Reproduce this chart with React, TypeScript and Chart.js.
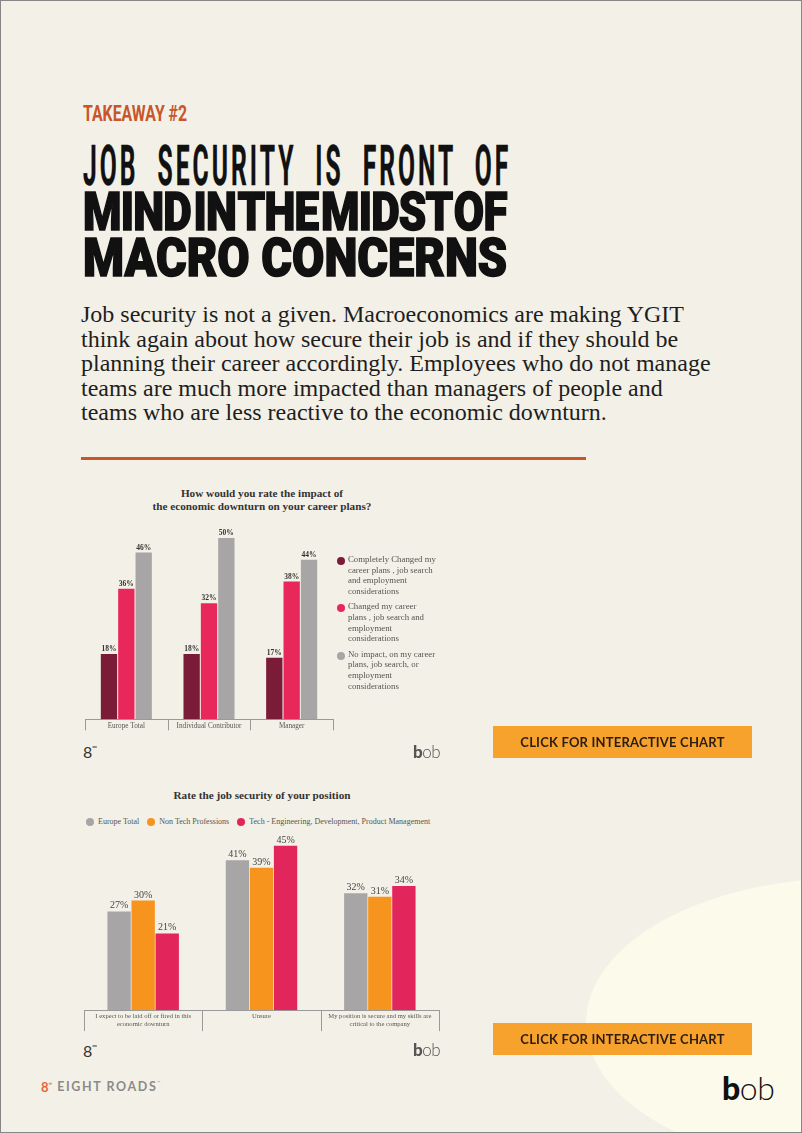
import React, { useEffect, useLayoutEffect, useRef } from 'react';
import { Chart, registerables } from 'chart.js';

Chart.register(...registerables);

// ---------- Data ----------
const careerTitle = ['How would you rate the impact of', 'the economic downturn on your career plans?'];
const careerCategories = ['Europe Total', 'Individual Contributor', 'Manager'];
const careerSeries = [
  'Completely Changed my\ncareer plans , job search\nand employment\nconsiderations',
  'Changed my career\nplans , job search and\nemployment\nconsiderations',
  'No impact, on my career\nplans, job search, or\nemployment\nconsiderations',
];
const completelyChanged = [18, 18, 17];
const changedPlans = [36, 32, 38];
const noImpact = [46, 50, 44];
const careerColors = ['#7a1b37', '#e8285a', '#a7a5a6'];

const securityTitle = 'Rate the job security of your position';
const securityCategories = [
  ['I expect to be laid off or fired in this', 'economic downturn'],
  ['Unsure'],
  ['My position is secure and my skills are', 'critical to the company'],
];
const securitySeries = ['Europe Total', 'Non Tech Professions', 'Tech - Engineering, Development, Product Management'];
const europeTotal = [27, 41, 32];
const nonTech = [30, 39, 31];
const techRoles = [21, 45, 34];
const securityColors = ['#a7a5a6', '#f7941e', '#e2255a'];

const kicker = 'TAKEAWAY #2';
const headlineLines = ['JOB SECURITY IS FRONT OF', 'MIND IN THE MIDST OF', 'MACRO CONCERNS'];
const paragraphLines = [
  'Job security is not a given. Macroeconomics are making YGIT',
  'think again about how secure their job is and if they should be',
  'planning their career accordingly. Employees who do not manage',
  'teams are much more impacted than managers of people and',
  'teams who are less reactive to the economic downturn.',
];

const BG = '#f3f1e7';
const SERIF = '"Liberation Serif", "Times New Roman", serif';

const valueLabelPlugin = {
  id: 'valueLabels',
  afterDatasetsDraw(chart: any, _args: any, opts: any) {
    const ctx = chart.ctx;
    ctx.save();
    ctx.font = opts.font;
    ctx.fillStyle = opts.color;
    ctx.textAlign = 'center';
    ctx.textBaseline = 'alphabetic';
    chart.data.datasets.forEach((ds: any, i: number) => {
      const meta = chart.getDatasetMeta(i);
      meta.data.forEach((el: any, j: number) => {
        ctx.fillText(`${ds.data[j]}%`, el.x, el.y - opts.offset);
      });
    });
    ctx.restore();
  },
};

// category separators below the x axis, placed from the category scale
const separatorPlugin = {
  id: 'separators',
  afterDraw(chart: any, _args: any, opts: any) {
    const xs = chart.scales.x;
    const ctx = chart.ctx;
    const bottom = chart.chartArea.bottom;
    ctx.save();
    ctx.strokeStyle = opts.color;
    ctx.lineWidth = 1;
    for (let i = 0; i <= xs.ticks.length; i++) {
      const px = Math.round(xs.getPixelForValue(i - 0.5)) + 0.5;
      ctx.beginPath();
      ctx.moveTo(px, bottom);
      ctx.lineTo(px, bottom + opts.length);
      ctx.stroke();
    }
    ctx.restore();
  },
};

function CareerChart() {
  const ref = useRef<HTMLCanvasElement>(null);
  useEffect(() => {
    const values = [completelyChanged, changedPlans, noImpact];
    const chart = new Chart(ref.current as HTMLCanvasElement, {
      type: 'bar',
      data: {
        labels: careerCategories,
        datasets: values.map((d, i) => ({
          label: careerSeries[i].replace(/\n/g, ' '),
          data: d,
          backgroundColor: careerColors[i],
          categoryPercentage: 0.63,
          barPercentage: 0.94,
        })),
      },
      options: {
        responsive: false,
        animation: false,
        layout: { padding: { left: 5, right: 7, top: 0, bottom: 0 } },
        plugins: {
          legend: { display: false },
          tooltip: { enabled: false },
          valueLabels: { font: `bold 7.5px ${SERIF}`, color: '#333', offset: 3 },
          separators: { color: '#9a9a9a', length: 11 },
        } as any,
        scales: {
          x: {
            grid: { display: false, drawTicks: false },
            border: { display: true, color: '#9a9a9a' },
            ticks: {
              font: { family: SERIF, size: 7.2 },
              color: '#555',
              padding: 2,
              autoSkip: false,
              maxRotation: 0,
            },
          },
          y: { display: false, min: 0, max: 55 },
        },
      },
      plugins: [valueLabelPlugin, separatorPlugin],
    });
    return () => chart.destroy();
  }, []);
  return (
    <canvas
      ref={ref}
      width={260}
      height={212}
      style={{ position: 'absolute', left: 79, top: 519, width: 260, height: 212 }}
    />
  );
}

function SecurityChart() {
  const ref = useRef<HTMLCanvasElement>(null);
  useEffect(() => {
    const values = [europeTotal, nonTech, techRoles];
    const chart = new Chart(ref.current as HTMLCanvasElement, {
      type: 'bar',
      data: {
        labels: securityCategories,
        datasets: values.map((d, i) => ({
          label: securitySeries[i],
          data: d,
          backgroundColor: securityColors[i],
          categoryPercentage: 0.61,
          barPercentage: 0.97,
        })),
      },
      options: {
        responsive: false,
        animation: false,
        layout: { padding: { left: 4, right: 3, top: 0, bottom: 2 } },
        plugins: {
          legend: { display: false },
          tooltip: { enabled: false },
          valueLabels: { font: `10px ${SERIF}`, color: '#444', offset: 3 },
          separators: { color: '#9a9a9a', length: 21 },
        } as any,
        scales: {
          x: {
            grid: { display: false, drawTicks: false },
            border: { display: true, color: '#9a9a9a' },
            ticks: {
              font: { family: SERIF, size: 6.6, lineHeight: 1.2 },
              color: '#555',
              padding: 2,
              autoSkip: false,
              maxRotation: 0,
            },
          },
          y: { display: false, min: 0, max: 49.3 },
        },
      },
      plugins: [valueLabelPlugin, separatorPlugin],
    });
    return () => chart.destroy();
  }, []);
  return (
    <canvas
      ref={ref}
      width={362}
      height={202}
      style={{ position: 'absolute', left: 79, top: 829, width: 362, height: 202 }}
    />
  );
}

// a single line of display type, squeezed horizontally to a target width
function FitLine({ text, left, top, width, style }: any) {
  const ref = useRef<HTMLDivElement>(null);
  useLayoutEffect(() => {
    const el = ref.current;
    if (!el) return;
    const w = el.offsetWidth;
    if (w > 0) el.style.transform = `scaleX(${width / w})`;
  }, [text, width]);
  return (
    <div
      ref={ref}
      style={{
        position: 'absolute',
        left,
        top,
        whiteSpace: 'nowrap',
        transformOrigin: '0 0',
        lineHeight: 1,
        fontFamily: 'Roboto, sans-serif',
        ...style,
      }}
    >
      {text}
    </div>
  );
}

function EightMark({ left, top, color = '#333', size = 16 }: any) {
  return (
    <div style={{ position: 'absolute', left, top, fontFamily: 'Lato, sans-serif', fontSize: size, color, lineHeight: 1 }}>
      8<span style={{ fontSize: size * 0.4, verticalAlign: 'top', position: 'relative', top: 0 }}>∞</span>
    </div>
  );
}

function BobMark({ left, top, size, color }: any) {
  return (
    <div style={{ position: 'absolute', left, top, fontFamily: 'Lato, sans-serif', fontSize: size, color, lineHeight: 1, letterSpacing: -0.5 }}>
      <span style={{ fontWeight: 900 }}>b</span>
      <span style={{ fontWeight: 300 }}>ob</span>
    </div>
  );
}

function Button({ top }: { top: number }) {
  return (
    <div
      style={{
        position: 'absolute',
        left: 492,
        top,
        width: 259,
        height: 32,
        background: '#f8a22e',
        color: '#2b1d12',
        fontFamily: 'Lato, sans-serif',
        fontWeight: 700,
        fontSize: 13,
        display: 'flex',
        alignItems: 'center',
        justifyContent: 'center',
        letterSpacing: 0.2,
      }}
    >
      CLICK FOR INTERACTIVE CHART
    </div>
  );
}

export default function App() {
  return (
    <div
      style={{
        position: 'absolute',
        left: 0,
        top: 0,
        width: 802,
        height: 1133,
        background: BG,
        border: '1px solid #868686',
        boxSizing: 'border-box',
        overflow: 'hidden',
      }}
    >
      <div
        style={{
          position: 'absolute',
          left: 585,
          top: 877,
          width: 526,
          height: 290,
          borderRadius: '50%',
          background: '#fcfaea',
        }}
      />

      <FitLine text={kicker} left={82} top={101} width={104} style={{ fontSize: 22.5, fontWeight: 700, color: '#c8562a' }} />
      <FitLine
        text={headlineLines[0]}
        left={82}
        top={143}
        width={428}
        style={{ fontSize: 56, lineHeight: '44px', fontWeight: 700, color: '#111', letterSpacing: '7px', wordSpacing: '22px', WebkitTextStroke: '0.4px #111' }}
      />
      <FitLine
        text={headlineLines[1]}
        left={82}
        top={188.7}
        width={424}
        style={{ fontSize: 53.5, lineHeight: '44px', fontWeight: 900, color: '#111', letterSpacing: '-1px', wordSpacing: '-9px', WebkitTextStroke: '1.6px #111' }}
      />
      <FitLine
        text={headlineLines[2]}
        left={82}
        top={234.7}
        width={424}
        style={{ fontSize: 53.5, lineHeight: '44px', fontWeight: 900, color: '#111', WebkitTextStroke: '1.6px #111' }}
      />

      <div
        style={{
          position: 'absolute',
          left: 80,
          top: 301,
          fontFamily: SERIF,
          fontSize: 24,
          lineHeight: '24.5px',
          color: '#1e1e1e',
          whiteSpace: 'nowrap',
        }}
      >
        {paragraphLines.map((l, i) => (
          <div key={i}>{l}</div>
        ))}
      </div>

      <div style={{ position: 'absolute', left: 80, top: 456, width: 505, height: 3, background: '#c8562a' }} />

      {/* Chart 1 */}
      <div
        style={{
          position: 'absolute',
          left: 96,
          top: 486,
          width: 330,
          textAlign: 'center',
          fontFamily: SERIF,
          fontWeight: 700,
          fontSize: 11.2,
          lineHeight: '13px',
          color: '#333',
        }}
      >
        {careerTitle.map((t, i) => (
          <div key={i}>{t}</div>
        ))}
      </div>
      <CareerChart />
      <div style={{ position: 'absolute', left: 335, top: 553 }}>
        {careerSeries.map((s, i) => (
          <div key={i} style={{ position: 'relative', paddingLeft: 12, marginBottom: 4.5 }}>
            <span
              style={{
                position: 'absolute',
                left: 1,
                top: 3,
                width: 8,
                height: 8,
                borderRadius: '50%',
                background: careerColors[i],
              }}
            />
            <div style={{ fontFamily: SERIF, fontSize: 8.8, lineHeight: '10.7px', color: '#555', whiteSpace: 'pre-line' }}>{s}</div>
          </div>
        ))}
      </div>
      <EightMark left={82} top={743} />
      <BobMark left={412} top={742} size={17} color="#555" />
      <Button top={725} />

      {/* Chart 2 */}
      <div
        style={{
          position: 'absolute',
          left: 79,
          top: 788,
          width: 364,
          textAlign: 'center',
          fontFamily: SERIF,
          fontWeight: 700,
          fontSize: 11.2,
          color: '#333',
        }}
      >
        {securityTitle}
      </div>
      <div style={{ position: 'absolute', left: 85, top: 816, display: 'flex', alignItems: 'center' }}>
        {securitySeries.map((s, i) => (
          <div key={i} style={{ display: 'flex', alignItems: 'center', marginRight: 8 }}>
            <span style={{ width: 8, height: 8, borderRadius: '50%', background: securityColors[i], marginRight: 4 }} />
            <span style={{ fontFamily: SERIF, fontSize: 8, color: '#555', whiteSpace: 'nowrap' }}>{s}</span>
          </div>
        ))}
      </div>
      <SecurityChart />
      <EightMark left={82} top={1042} />
      <BobMark left={412} top={1040} size={17} color="#555" />
      <Button top={1022} />

      {/* Footer */}
      <div style={{ position: 'absolute', left: 40, top: 1080, display: 'flex', alignItems: 'flex-start', fontFamily: 'Lato, sans-serif', lineHeight: 1 }}>
        <span style={{ color: '#e8643a', fontSize: 13, fontWeight: 700 }}>8</span>
        <span style={{ color: '#e8643a', fontSize: 5, fontWeight: 700, marginRight: 5 }}>∞</span>
        <span style={{ color: '#8a8a8a', fontSize: 12.5, fontWeight: 700, letterSpacing: 1.6 }}>EIGHT ROADS</span>
        <span style={{ color: '#8a8a8a', fontSize: 4 }}>™</span>
      </div>
      <BobMark left={721} top={1071} size={32} color="#111" />
    </div>
  );
}
